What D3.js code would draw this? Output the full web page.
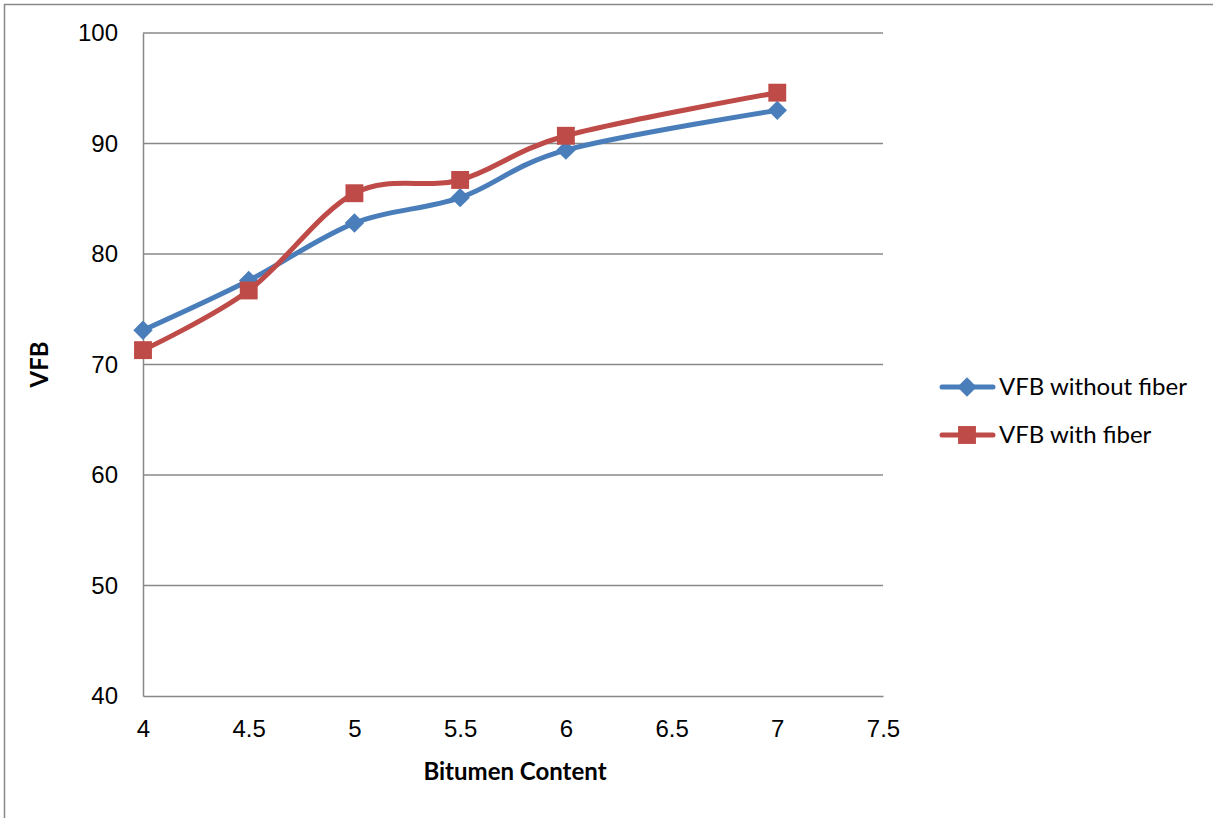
<!DOCTYPE html>
<html>
<head>
<meta charset="utf-8">
<script src="https://cdn.jsdelivr.net/npm/d3@7"></script>
<style>
  html, body { margin: 0; padding: 0; background: #fff; }
  svg { display: block; font-family: Lato, "Open Sans", sans-serif; }
</style>
</head>
<body>
<svg id="chart" width="1213" height="818"></svg>
<script>
// Bitumen content (%) on the x axis
const bitumen = [4, 4.5, 5, 5.5, 6, 7];
// VFB values for each mix
const vfbWithout = [73.1, 77.6, 82.8, 85.1, 89.4, 93.0];
const vfbWith = [71.3, 76.7, 85.5, 86.7, 90.7, 94.6];
const seriesNames = ["VFB without fiber", "VFB with fiber"];
const xTicks = [4, 4.5, 5, 5.5, 6, 6.5, 7, 7.5];
const yTicks = [40, 50, 60, 70, 80, 90, 100];

const svg = d3.select("#chart");
const plot = { left: 143, right: 883, top: 33, bottom: 696 };

const x = d3.scaleLinear().domain([4, 7.5]).range([plot.left, plot.right]);
const y = d3.scaleLinear().domain([40, 100]).range([plot.bottom, plot.top]);

// outer chart border
svg.append("rect")
  .attr("x", 4.5).attr("y", 4.5).attr("width", 1220).attr("height", 830)
  .attr("fill", "none").attr("stroke", "#888").attr("stroke-width", 1.5);

// horizontal gridlines
svg.append("g").selectAll("line").data(yTicks.filter(d => d > 40)).join("line")
  .attr("x1", plot.left).attr("x2", plot.right)
  .attr("y1", d => y(d)).attr("y2", d => y(d))
  .attr("stroke", "#888").attr("stroke-width", 1.5);

// y axis
const yAxis = svg.append("g").attr("transform", `translate(${plot.left},0)`)
  .call(d3.axisLeft(y).tickValues(yTicks).tickSize(0).tickPadding(25).tickFormat(d3.format("d")));
yAxis.select(".domain").attr("stroke", "#888").attr("stroke-width", 1.5);
yAxis.selectAll("text").attr("font-size", 24).attr("fill", "#000");

// x axis
const xAxis = svg.append("g").attr("transform", `translate(0,${plot.bottom})`)
  .call(d3.axisBottom(x).tickValues(xTicks).tickSize(0).tickPadding(24).tickFormat(d => String(d)));
xAxis.select(".domain").attr("stroke", "#888").attr("stroke-width", 1.5);
xAxis.selectAll("text").attr("font-size", 24).attr("fill", "#000");

// axis titles
svg.append("text").attr("x", 515).attr("y", 780)
  .attr("text-anchor", "middle").attr("font-size", 24).attr("font-weight", "bold")
  .text("Bitumen Content");
svg.append("text")
  .attr("transform", `translate(48,${(plot.top + plot.bottom) / 2}) rotate(-90)`)
  .attr("text-anchor", "middle").attr("font-size", 24).attr("font-weight", "bold")
  .text("VFB");

const colors = ["#4A7EBB", "#BE4B48"];
const allSeries = [vfbWithout, vfbWith];

const line = d3.line()
  .x((d, i) => x(bitumen[i]))
  .y(d => y(d))
  .curve(d3.curveCatmullRom.alpha(0));

const diamond = d3.symbol().type(d3.symbolDiamond2).size(240);
const square = d3.symbol().type(d3.symbolSquare).size(320);
const markers = [diamond, square];

allSeries.forEach((vals, s) => {
  const g = svg.append("g");
  g.append("path").datum(vals)
    .attr("d", line).attr("fill", "none")
    .attr("stroke", colors[s]).attr("stroke-width", 5)
    .attr("stroke-linejoin", "round").attr("stroke-linecap", "round");
  g.selectAll("path.m").data(vals).join("path").attr("class", "m")
    .attr("transform", (d, i) => `translate(${x(bitumen[i])},${y(d)})`)
    .attr("d", markers[s]())
    .attr("fill", colors[s]);
});

// legend
const legend = svg.append("g");
seriesNames.forEach((name, s) => {
  const ly = 387 + s * 48;
  legend.append("line").attr("x1", 942).attr("x2", 993).attr("y1", ly).attr("y2", ly)
    .attr("stroke", colors[s]).attr("stroke-width", 5).attr("stroke-linecap", "round");
  legend.append("path").attr("transform", `translate(967,${ly})`)
    .attr("d", markers[s]()).attr("fill", colors[s]);
  legend.append("text").attr("x", 999).attr("y", ly + 8)
    .attr("font-size", 24).text(name);
});
</script>
</body>
</html>
